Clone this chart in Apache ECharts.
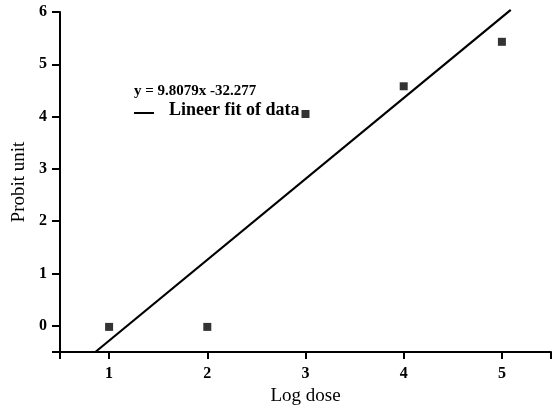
<!DOCTYPE html>
<html>
<head>
<meta charset="utf-8">
<script src="https://cdn.jsdelivr.net/npm/echarts@6/dist/echarts.min.js"></script>
<style>html,body{margin:0;padding:0;background:#fff;}#c{width:552px;height:408px;}</style>
</head>
<body>
<div id="c"></div>
<script>
var logDose = [1, 2, 3, 4, 5];
var probit = [-0.02, -0.02, 4.05, 4.58, 5.43];
var fitX = [0.86, 5.09];
var fitY = [-0.5, 6.04];
var xTickLabels = [1, 2, 3, 4, 5];
var yTickLabels = [0, 1, 2, 3, 4, 5, 6];
var equationText = 'y = 9.8079x -32.277';
var legendText = 'Lineer fit of data';

var F = '"Liberation Serif","Times New Roman",serif';
var chart = echarts.init(document.getElementById('c'));
var axisCommon = {
  axisLine: {show: true, onZero: false, lineStyle: {color: '#000', width: 2}},
  splitLine: {show: false},
  nameTextStyle: {color: '#000', fontFamily: F, fontSize: 19},
};
chart.setOption({
  animation: false,
  grid: {left: 60, top: 12, width: 491, height: 340, containLabel: false, outerBoundsMode: 'none'},
  xAxis: Object.assign({}, axisCommon, {
    type: 'value', min: 0.5, max: 5.5, interval: 0.5,
    name: 'Log dose', nameLocation: 'middle', nameGap: 34,
    axisTick: {show: true, length: 7, lineStyle: {color: '#000', width: 2},
      customValues: [0.5].concat(xTickLabels).concat([5.5])},
    axisLabel: {customValues: xTickLabels, margin: 14, color: '#000', fontFamily: F, fontSize: 16, fontWeight: 'bold'}
  }),
  yAxis: Object.assign({}, axisCommon, {
    type: 'value', min: -0.5, max: 6, interval: 0.5,
    name: 'Probit unit', nameLocation: 'middle', nameGap: 23,
    axisTick: {show: true, length: 8, lineStyle: {color: '#000', width: 2},
      customValues: [-0.5].concat(yTickLabels)},
    axisLabel: {customValues: yTickLabels, margin: 13, color: '#000', fontFamily: F, fontSize: 16, fontWeight: 'bold'}
  }),
  series: [
    {type: 'scatter', symbol: 'rect', symbolSize: 8,
     itemStyle: {color: '#000', borderColor: '#333', borderWidth: 0},
     data: logDose.map(function (x, i) { return [x, probit[i]]; })},
    {type: 'line', symbol: 'none', clip: false,
     lineStyle: {color: '#000', width: 2.2},
     data: fitX.map(function (x, i) { return [x, fitY[i]]; })}
  ],
  graphic: [
    {type: 'text', left: 134, top: 84, style: {text: equationText, fill: '#000', font: 'bold 15px ' + F}},
    {type: 'line', shape: {x1: 134, y1: 113, x2: 154, y2: 113}, style: {stroke: '#000', lineWidth: 2}},
    {type: 'text', left: 169, top: 101, style: {text: legendText, fill: '#000', font: 'bold 18px ' + F}}
  ]
});
</script>
</body>
</html>
